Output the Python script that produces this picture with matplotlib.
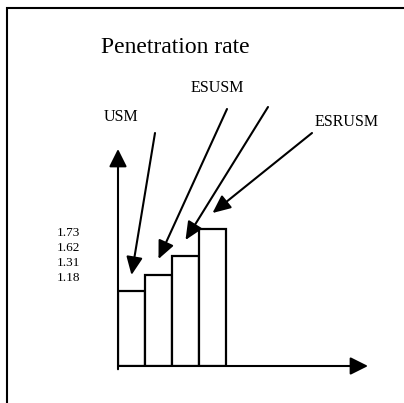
import matplotlib
matplotlib.use('Agg')
import matplotlib.pyplot as plt
from matplotlib.patches import Rectangle

# Datos (esquema: alturas de barra leídas da figura, em unidades arbitrárias)
categorias = ['USM', 'ESUSM', 'ESUSM', 'ESRUSM']
alturas = [75, 91, 110, 137]
rotulos_taxa = ['1.73', '1.62', '1.31', '1.18']

W, H = 404, 403
plt.rcParams['font.family'] = ['Liberation Serif', 'DejaVu Serif']

fig = plt.figure(figsize=(W / 100, H / 100), dpi=100)

# moldura (cortada à direita e embaixo)
fig.add_artist(Rectangle((7 / W, -0.1), 1.2, 1.1 - 8 / H, transform=fig.transFigure,
                         fill=False, edgecolor='black', linewidth=1.5))

# eixo das barras: origem em (118, 366) px, topo da seta em y=149, ponta x=368
ax = fig.add_axes([118 / W, (H - 366) / H, 250 / W, 217 / H])
ax.set_xlim(0, 250 / 27)
ax.set_ylim(0, 217)
ax.axis('off')

xs = list(range(len(alturas)))
ax.bar(xs, alturas, width=1, align='edge', color='white', edgecolor='black', linewidth=1.6, zorder=2)

# setas dos eixos
seta = dict(arrowstyle='-|>,head_length=0.4,head_width=0.2', mutation_scale=27,
            color='black', lw=1.5, shrinkA=0, shrinkB=0)
ax.annotate('', xy=(0, 1), xytext=(0, -0.015), xycoords='axes fraction', arrowprops=seta)
ax.annotate('', xy=(1, 0), xytext=(0, 0), xycoords='axes fraction', arrowprops=seta)

# setas dos rótulos, partindo dos pontos (px) perto dos textos
inicios = [(155, 133), (227, 109), (268, 107), (312, 133)]
seta_r = dict(arrowstyle='-|>,head_length=0.42,head_width=0.19', mutation_scale=26,
              color='black', lw=1.5, shrinkA=0, shrinkB=0)
for i, (h, (px, py)) in enumerate(zip(alturas, inicios)):
    ax.annotate('', xy=(i + 0.5, h + 16), xycoords='data',
                xytext=(px / W, 1 - py / H), textcoords='figure fraction',
                arrowprops=seta_r)

# textos
fig.text(101 / W, 1 - 53 / H, 'Penetration rate', fontsize=17, va='baseline', ha='left')
fig.text(121 / W, 1 - 117 / H, 'USM', fontsize=11.5, ha='center', va='center')
fig.text(217 / W, 1 - 88 / H, 'ESUSM', fontsize=11.5, ha='center', va='center')
fig.text(347 / W, 1 - 122 / H, 'ESRUSM', fontsize=11.5, ha='center', va='center')
for k, r in enumerate(rotulos_taxa):
    fig.text(57 / W, 1 - (232.7 + 15.2 * k) / H, r, fontsize=9.5, ha='left', va='center')

fig.savefig('out.png', dpi=100)
